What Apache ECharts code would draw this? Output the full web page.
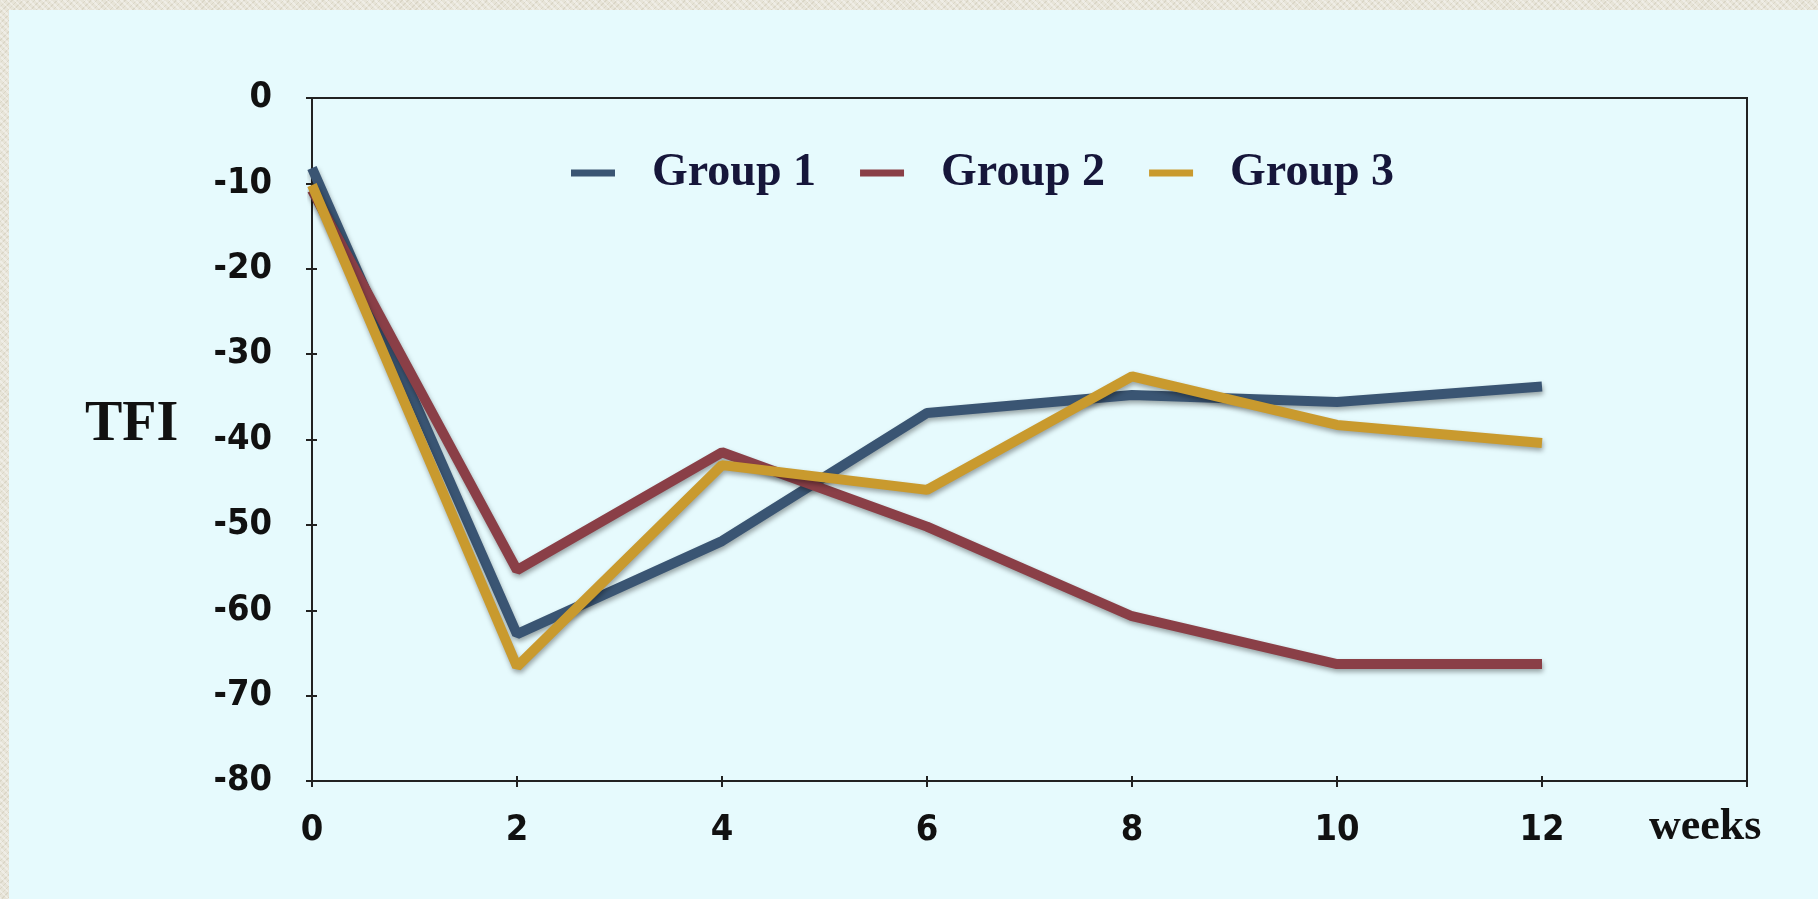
<!DOCTYPE html>
<html>
<head>
<meta charset="utf-8">
<script src="https://cdn.jsdelivr.net/npm/echarts@6/dist/echarts.min.js"></script>
<style>
  html, body { margin: 0; padding: 0; }
  body {
    width: 1818px; height: 899px; overflow: hidden;
    background-color: #e7e4d8;
    background-image:
      repeating-linear-gradient(45deg, rgba(255,255,255,0.35) 0 2px, rgba(0,0,0,0) 2px 5px),
      repeating-linear-gradient(-45deg, rgba(160,150,120,0.18) 0 1px, rgba(0,0,0,0) 1px 4px);
  }
  #panel { position: absolute; left: 9px; top: 10px; right: 0; bottom: 0; background: #e6fafd; }
  #chart { position: absolute; left: 0; top: 0; width: 1818px; height: 899px; }
</style>
</head>
<body>
<div id="panel"></div>
<div id="chart"></div>
<script>
const weeks = [0, 2, 4, 6, 8, 10, 12];
const seriesNames = ['Group 1', 'Group 2', 'Group 3'];
const group1 = [-8.2, -62.8, -51.9, -36.9, -34.8, -35.6, -33.8];
const group2 = [-10.8, -55.3, -41.5, -50.2, -60.7, -66.3, -66.3];
const group3 = [-10.2, -66.6, -43.0, -45.9, -32.6, -38.3, -40.4];
const xTicks = [0, 2, 4, 6, 8, 10, 12];
const yTicks = [0, -10, -20, -30, -40, -50, -60, -70, -80];
const colors = ['#3a5573', '#8a3f47', '#c99a2e'];

const values = [group1, group2, group3];
const chart = echarts.init(document.getElementById('chart'), null, { renderer: 'canvas' });

const tickFont = { fontFamily: '"DejaVu Sans Condensed", "DejaVu Sans"', fontWeight: 'bold', fontSize: 36, color: '#111' };
const axisColor = '#222';

function baseX(extra) {
  return Object.assign({
    type: 'value', min: 0, max: 14, interval: 2,
    splitLine: { show: false }
  }, extra);
}
function baseY(extra) {
  return Object.assign({
    type: 'value', min: -80, max: 0, interval: 10,
    splitLine: { show: false }
  }, extra);
}

chart.setOption({
  backgroundColor: 'transparent',
  animation: false,
  grid: {
    left: 312, top: 98, right: 71, bottom: 118,
    show: true, borderColor: axisColor, borderWidth: 2, backgroundColor: 'transparent'
  },
  legend: {
    left: 566, top: 143,
    itemWidth: 44, itemHeight: 7, itemGap: 44,
    icon: 'rect',
    data: seriesNames,
    textStyle: {
      fontFamily: 'Liberation Serif', fontWeight: 'bold', fontSize: 46,
      color: '#16163a', padding: [0, 0, 0, 32], lineHeight: 50
    }
  },
  xAxis: [
    baseX({
      axisLine: { show: true, onZero: false, lineStyle: { color: axisColor, width: 2 } },
      axisTick: { show: true, length: 6, lineStyle: { color: axisColor, width: 2 } },
      axisLabel: Object.assign({
        margin: 32,
        formatter: v => xTicks.indexOf(v) >= 0 ? String(v) : ''
      }, tickFont)
    }),
    baseX({
      position: 'bottom',
      axisLine: { show: false, onZero: false },
      axisTick: { show: true, inside: true, length: 5, lineStyle: { color: axisColor, width: 2 } },
      axisLabel: { show: false }
    })
  ],
  yAxis: [
    baseY({
      axisLine: { show: true, onZero: false, lineStyle: { color: axisColor, width: 2 } },
      axisTick: { show: true, length: 6, lineStyle: { color: axisColor, width: 2 } },
      axisLabel: Object.assign({
        margin: 40,
        formatter: v => yTicks.indexOf(v) >= 0 ? String(v) : ''
      }, tickFont)
    }),
    baseY({
      position: 'left',
      axisLine: { show: false, onZero: false },
      axisTick: { show: true, inside: true, length: 5, lineStyle: { color: axisColor, width: 2 } },
      axisLabel: { show: false }
    })
  ],
  graphic: [
    { type: 'text', left: 85, top: 398,
      style: { text: 'TFI', font: 'bold 56px "Liberation Serif"', fill: '#111' } },
    { type: 'text', left: 1649, top: 806,
      style: { text: 'weeks', font: 'bold 44px "Liberation Serif"', fill: '#111' } }
  ],
  series: seriesNames.map((name, i) => ({
    name: name,
    type: 'line',
    data: weeks.map((w, j) => [w, values[i][j]]),
    symbol: 'none',
    color: colors[i],
    lineStyle: {
      width: 10, color: colors[i],
      shadowColor: 'rgba(0,0,0,0.35)', shadowBlur: 5, shadowOffsetX: 1, shadowOffsetY: 3
    }
  }))
});
</script>
</body>
</html>
